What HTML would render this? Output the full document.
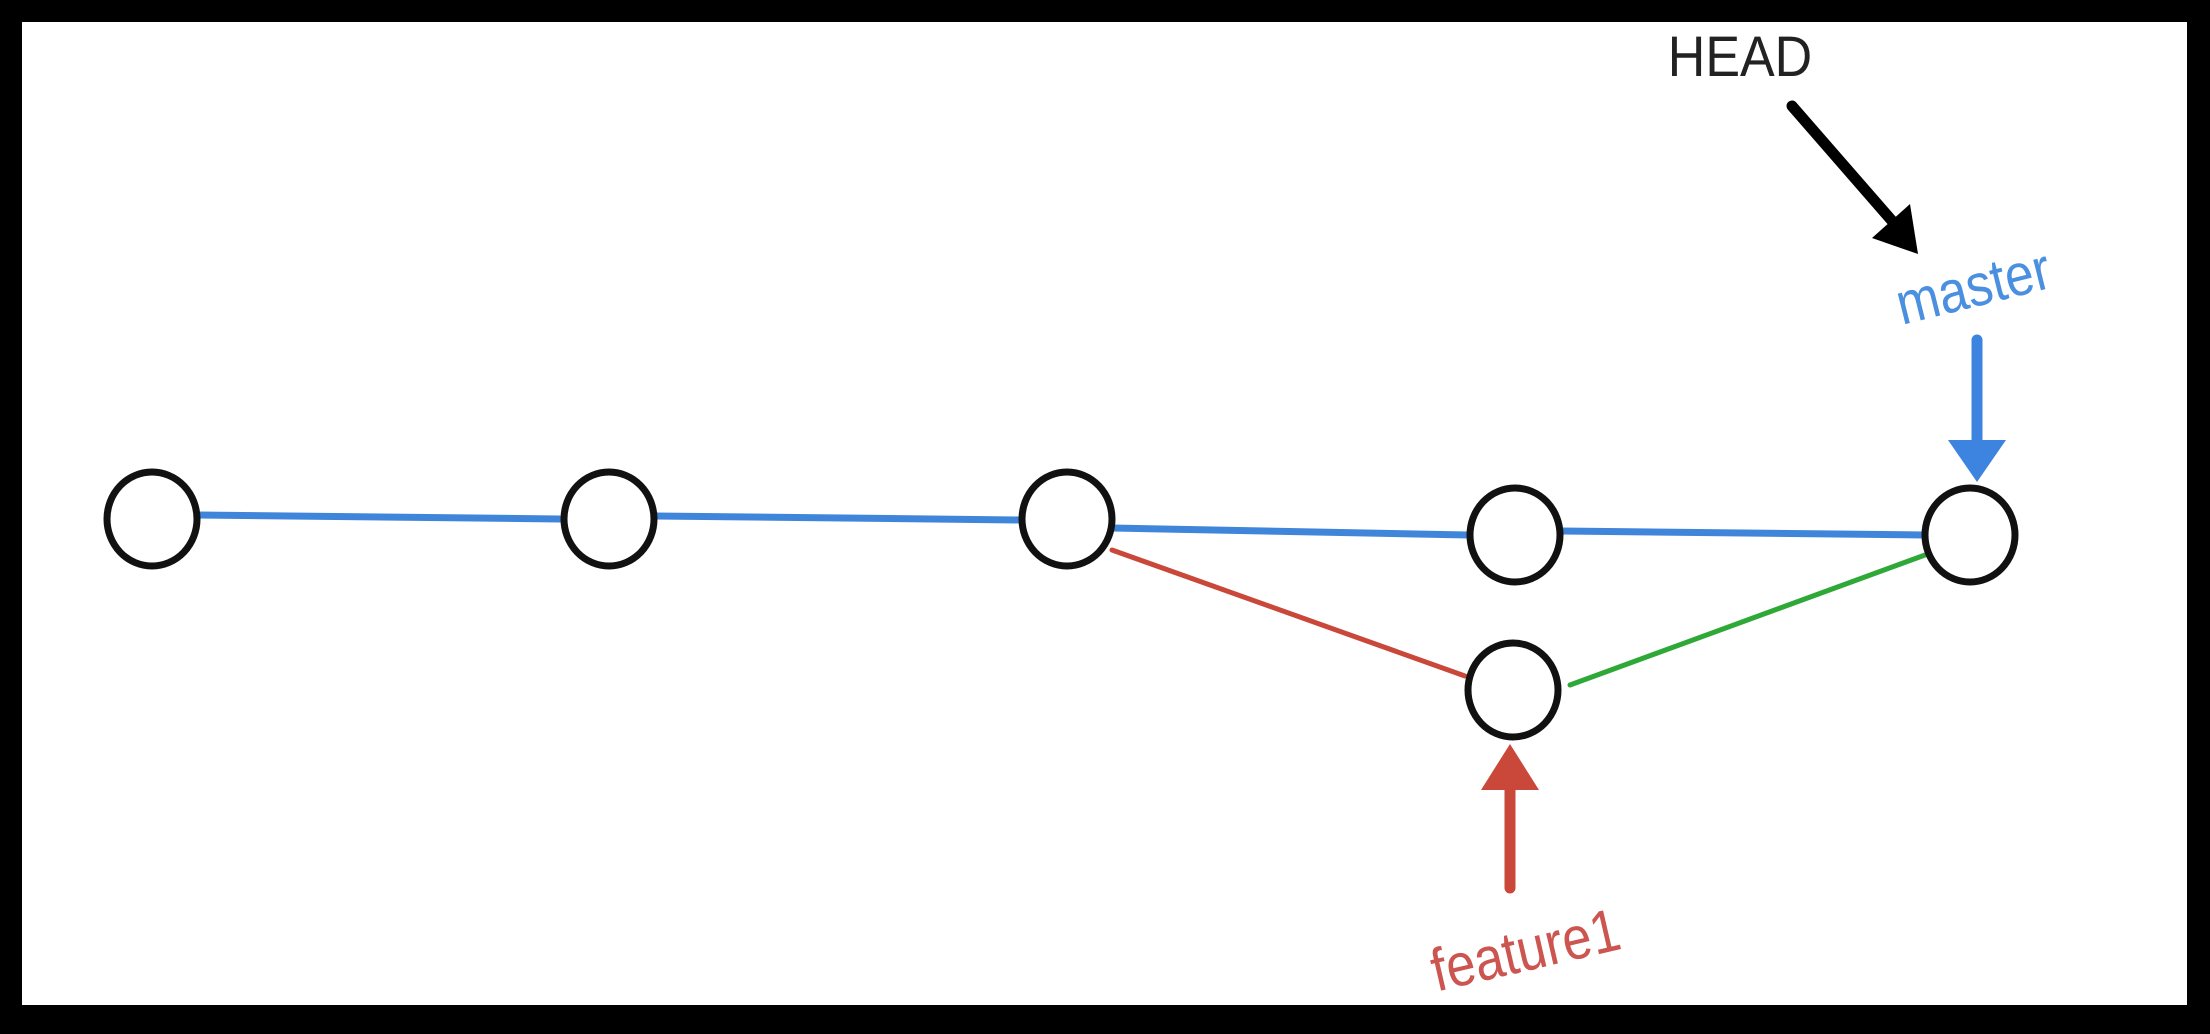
<!DOCTYPE html>
<html><head><meta charset="utf-8"><style>
html,body{margin:0;padding:0;background:#000;}
svg{display:block;}
text{text-rendering:geometricPrecision;}
</style></head><body>
<svg width="2210" height="1034" viewBox="0 0 2210 1034" xmlns="http://www.w3.org/2000/svg">
<rect x="0" y="0" width="2210" height="1034" fill="#000"/>
<rect x="22" y="22" width="2165" height="983" fill="#fff"/>
<g fill="none" stroke-linecap="round">
<path d="M198 515 L560 519" stroke="#3f86db" stroke-width="7"/>
<path d="M655 516 L1022 520" stroke="#3f86db" stroke-width="7"/>
<path d="M1112 528 L1468 535" stroke="#3f86db" stroke-width="7"/>
<path d="M1562 531 L1924 535" stroke="#3f86db" stroke-width="7"/>
<path d="M1112 550 L1465 676" stroke="#c9483a" stroke-width="5"/>
<path d="M1570 685 L1925 555" stroke="#2ea836" stroke-width="5"/>
</g>
<g fill="#fff" stroke="#111" stroke-width="7">
<ellipse cx="152" cy="519" rx="45" ry="47"/>
<ellipse cx="609" cy="519" rx="45" ry="47"/>
<ellipse cx="1067" cy="519" rx="45" ry="47"/>
<ellipse cx="1515" cy="535" rx="45" ry="47"/>
<ellipse cx="1970" cy="535" rx="45" ry="47"/>
<ellipse cx="1513" cy="690" rx="45" ry="47"/>
</g>
<text transform="translate(1740 76) scale(1 1.1)" font-family="Liberation Sans, sans-serif" font-size="52" fill="#222" text-anchor="middle" text-rendering="geometricPrecision">HEAD</text>
<line x1="1792" y1="106" x2="1900" y2="230" stroke="#000" stroke-width="11" stroke-linecap="round"/>
<polygon points="1918,254 1872,238 1910,204" fill="#000"/>
<text transform="translate(1978 306) rotate(-14) scale(0.95 1.1)" font-family="Liberation Sans, sans-serif" font-size="54" fill="#4a8fe0" text-anchor="middle" text-rendering="geometricPrecision">master</text>
<line x1="1977" y1="340" x2="1977" y2="450" stroke="#3d84e0" stroke-width="11" stroke-linecap="round"/>
<polygon points="1948,440 2006,440 1977,482" fill="#3d84e0"/>
<line x1="1510" y1="888" x2="1510" y2="780" stroke="#c9483a" stroke-width="11" stroke-linecap="round"/>
<polygon points="1481,790 1539,790 1510,744" fill="#c9483a"/>
<text transform="translate(1530 970) rotate(-13) scale(0.95 1.1)" font-family="Liberation Sans, sans-serif" font-size="55" fill="#cc5550" text-anchor="middle" text-rendering="geometricPrecision">feature1</text>
</svg>
</body></html>
